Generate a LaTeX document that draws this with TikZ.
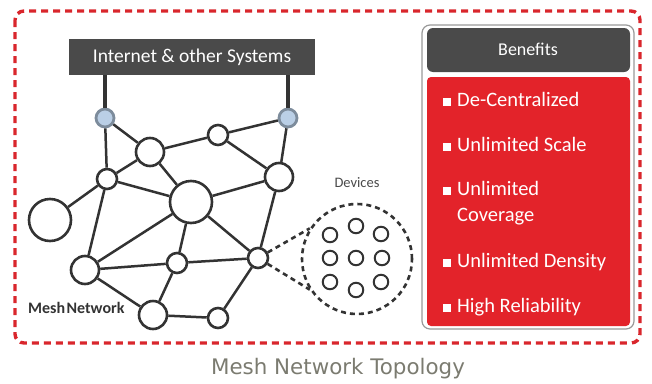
\documentclass[tikz,border=0pt]{standalone}
\usepackage{fontspec}
\setmainfont{Carlito}
\newfontfamily\capfont{DejaVu Sans}
\usetikzlibrary{calc}
\definecolor{dred}{HTML}{D9262C}
\definecolor{bred}{HTML}{E3232A}
\definecolor{hdr}{HTML}{4A4A4A}
\definecolor{edge}{HTML}{333333}
\definecolor{bluef}{HTML}{BACFE6}
\definecolor{blueb}{HTML}{7D8C9C}
\definecolor{capc}{HTML}{7B7B70}
\tikzset{
  mn/.style={circle,draw=edge,line width=2.6pt,fill=white,inner sep=0pt,minimum size=#1},
  bn/.style={circle,draw=blueb,line width=2.8pt,fill=bluef,inner sep=0pt,minimum size=18pt},
  dn/.style={circle,draw=edge,line width=2pt,fill=white,inner sep=0pt,minimum size=14.5pt},
  ln/.style={draw=edge,line width=2.5pt},
  dl/.style={draw=edge,line width=2.6pt,dash pattern=on 5pt off 4pt},
  item/.style={anchor=west,text=white,font=\fontsize{20.5}{24}\selectfont,inner sep=0pt},
}
\newcommand{\bul}{\rule{8pt}{8pt}\hspace{6pt}}
\begin{document}
\begin{tikzpicture}[x=1pt,y=-1pt]
\useasboundingbox (0,0) rectangle (652,383);
% outer dashed frame
\draw[dred,line width=3.4pt,dash pattern=on 7pt off 5pt,rounded corners=9pt] (15,11) rectangle (640,343);
% internet box
\node[fill=hdr,minimum width=246pt,minimum height=36pt,inner sep=0pt,text=white,font=\fontsize{19.5}{22}\selectfont] (inet) at (192,57) {Internet \& other Systems};
% nodes
\node[bn] (bl) at (105,118) {};
\node[bn] (br) at (288,118) {};
\node[mn=28pt] (a) at (150,152) {};
\node[mn=20pt] (b) at (218,135) {};
\node[mn=20pt] (c) at (107,179) {};
\node[mn=28pt] (d) at (279,177) {};
\node[mn=42pt] (big) at (191,202) {};
\node[mn=42pt] (ll) at (50,220) {};
\node[mn=28pt] (e) at (85,270) {};
\node[mn=20pt] (f) at (177,263) {};
\node[mn=20pt] (g) at (258,258) {};
\node[mn=28pt] (h) at (153,315) {};
\node[mn=20pt] (i) at (218,318) {};
% edges
\draw[edge,line width=3.2pt] (inet.south -| bl) -- (bl);
\draw[edge,line width=3.2pt] (inet.south -| br) -- (br);
\foreach \u/\v in {bl/c,bl/a,a/b,b/br,b/d,br/d,a/c,a/big,c/big,c/ll,c/e,big/d,big/e,big/f,big/g,d/g,e/f,f/g,e/h,f/h,h/i,i/g}
  \draw[ln] (\u) -- (\v);
% devices
\node[circle,dl,minimum size=110pt,inner sep=0pt] (dev) at (357,259) {};
\draw[dl] (g) -- (dev.147);
\draw[dl] (g) -- (dev.213);
\node[dn] (d1) at (330,235) {};
\node[dn] (d2) at (356,226) {};
\node[dn] (d3) at (381,234) {};
\node[dn] (d4) at (330,258) {};
\node[dn] (d5) at (356,258) {};
\node[dn] (d6) at (382,258) {};
\node[dn] (d7) at (330,282) {};
\node[dn] (d8) at (356,290) {};
\node[dn] (d9) at (381,282) {};
\node[text=hdr,font=\fontsize{14.5}{17}\selectfont] (devl) at (357,183) {Devices};
\node[anchor=west,text=edge,font=\bfseries\fontsize{16}{18}\selectfont,inner sep=0pt] (mesh) at (28,308) {Mesh\hspace{1.5pt}Network};
% benefits panel
\draw[draw=gray!80,line width=1.2pt,fill=white,rounded corners=8pt] (422,25) rectangle (634,329);
\fill[hdr,rounded corners=6pt] (427,28) rectangle (630,72);
\node[text=white,font=\fontsize{18}{20}\selectfont] (ben) at (528,49) {Benefits};
\fill[bred,rounded corners=4pt] (427,77) rectangle (630,326);
\node[item] (t1) at (443,99) {\bul De-Centralized};
\node[item] (t2) at (443,144) {\bul Unlimited Scale};
\node[item] (t3) at (443,188) {\bul Unlimited};
\node[item] (t3b) at (457,217) {Coverage};
\node[item] (t4) at (443,262) {\bul Unlimited Density};
\node[item] (t5) at (443,307) {\bul High Reliability};
% caption
\node[text=capc,font=\capfont\fontsize{21.4}{24}\selectfont] (cap) at (338,369) {Mesh Network Topology};
\end{tikzpicture}
\end{document}
